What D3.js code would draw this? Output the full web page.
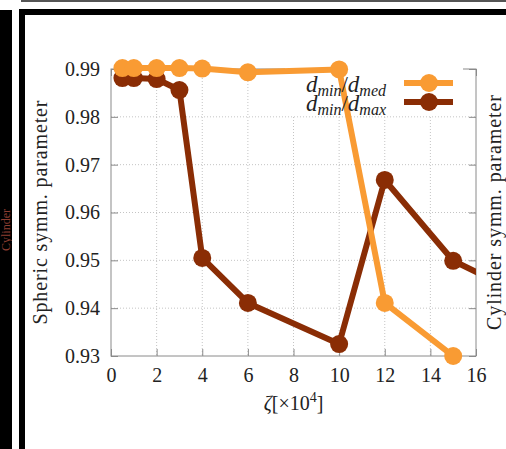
<!DOCTYPE html>
<html>
<head>
<meta charset="utf-8">
<script src="https://cdn.jsdelivr.net/npm/d3@7"></script>
<style>
  html, body { margin: 0; padding: 0; background: #fff; }
  svg { display: block; font-family: "Liberation Serif", "DejaVu Serif", serif; }
</style>
</head>
<body>
<svg id="chart" width="506" height="449"></svg>
<script>
// ---- data ----
var zetaMed = [0.5, 1, 2, 3, 4, 6, 10, 12, 15];
var dMinMed = [0.9902, 0.9902, 0.9902, 0.9902, 0.9901, 0.9893, 0.9899, 0.9411, 0.9300];

var zetaMax = [0.5, 1, 2, 3, 4, 6, 10, 12, 15, 20];   // last point lies outside the frame
var dMinMax = [0.9881, 0.9881, 0.9879, 0.9856, 0.9505, 0.9411, 0.9325, 0.9668, 0.9499, 0.9384];

var xTicks = [0, 2, 4, 6, 8, 10, 12, 14, 16];
var yTicks = [0.93, 0.94, 0.95, 0.96, 0.97, 0.98, 0.99];

var orange = '#f99b33',
    brown = '#8a2d05';

var margin = {top: 69, right: 30, bottom: 93, left: 111},
    width = 506,
    height = 449,
    innerW = width - margin.left - margin.right,
    innerH = height - margin.top - margin.bottom;

var svg = d3.select('#chart');

//------------------------------------------------------------
// page frame around the cropped figure

svg.append('rect').attr('x', 0).attr('y', 10).attr('width', 12).attr('height', height - 10).attr('fill', '#000');
svg.append('text')
    .attr('transform', 'translate(10,230) rotate(-90)')
    .attr('text-anchor', 'middle')
    .attr('font-size', 12)
    .attr('fill', '#8e3e32')
    .text('Cylinder');
svg.append('rect').attr('x', 12).attr('y', 0).attr('width', 7).attr('height', height).attr('fill', '#fff');
svg.append('rect').attr('x', 19).attr('y', 10).attr('width', 6).attr('height', height - 10).attr('fill', '#000');
svg.append('rect').attr('x', 19).attr('y', 9).attr('width', width - 19).attr('height', 6).attr('fill', '#000');
svg.append('rect').attr('x', 21).attr('y', 0).attr('width', width - 21).attr('height', 2).attr('fill', '#555');

//------------------------------------------------------------
// scales

var x = d3.scaleLinear().domain([0, 16]).range([0, innerW]);
var y = d3.scaleLinear().domain([0.93, 0.99]).range([innerH, 0]);

var g = svg.append('g').attr('transform', 'translate(' + margin.left + ',' + margin.top + ')');

//------------------------------------------------------------
// grid

g.append('g').selectAll('line.vgrid')
    .data(xTicks.filter(function(d) { return d > 0 && d < 16; }))
  .enter().append('line')
    .attr('x1', function(d) { return x(d); })
    .attr('x2', function(d) { return x(d); })
    .attr('y1', 0).attr('y2', innerH)
    .attr('stroke', '#c4c4c4').attr('stroke-width', 1).attr('stroke-dasharray', '1,2');

g.append('g').selectAll('line.hgrid')
    .data(yTicks.filter(function(d) { return d > 0.93 && d < 0.99; }))
  .enter().append('line')
    .attr('x1', 0).attr('x2', innerW)
    .attr('y1', function(d) { return y(d); })
    .attr('y2', function(d) { return y(d); })
    .attr('stroke', '#c4c4c4').attr('stroke-width', 1).attr('stroke-dasharray', '1,2');

//------------------------------------------------------------
// frame and inward ticks

g.append('rect')
    .attr('width', innerW).attr('height', innerH)
    .attr('fill', 'none').attr('stroke', '#8a8a8a').attr('stroke-width', 1);

var axL = g.append('g')
    .call(d3.axisLeft(y).tickValues(yTicks).tickSize(-7).tickPadding(11).tickFormat(d3.format('.2f')));
var axB = g.append('g').attr('transform', 'translate(0,' + innerH + ')')
    .call(d3.axisBottom(x).tickValues(xTicks).tickSize(-7).tickPadding(12).tickFormat(d3.format('d')));
var axR = g.append('g').attr('transform', 'translate(' + innerW + ',0)')
    .call(d3.axisRight(y).tickValues(yTicks).tickSize(-7).tickFormat(''));
var axT = g.append('g')
    .call(d3.axisTop(x).tickValues(xTicks).tickSize(-7).tickFormat(''));

[axL, axB, axR, axT].forEach(function(a) {
  a.select('.domain').remove();
  a.selectAll('line').attr('stroke', '#8a8a8a');
  a.selectAll('text').attr('font-size', 20).attr('fill', '#222').attr('font-family', '"Liberation Serif", serif');
});

//------------------------------------------------------------
// opaque key background

var keyX0 = 285 - margin.left, keyX1 = 463 - margin.left;
g.append('rect')
    .attr('x', keyX0).attr('y', -4)
    .attr('width', keyX1 - keyX0).attr('height', 50)
    .attr('fill', '#fff');

//------------------------------------------------------------
// series

g.append('defs').append('clipPath').attr('id', 'plot-clip')
  .append('rect').attr('width', innerW).attr('height', innerH + 12).attr('y', -12);

var series = [
  {xs: zetaMax, ys: dMinMax, color: brown},
  {xs: zetaMed, ys: dMinMed, color: orange}
];

var line = d3.line()
    .x(function(d) { return x(d[0]); })
    .y(function(d) { return y(d[1]); });

var sg = g.append('g').attr('clip-path', 'url(#plot-clip)');

// brown first, orange on top
series.forEach(function(s) {
  var pts = s.xs.map(function(v, i) { return [v, s.ys[i]]; });
  sg.append('path')
      .attr('d', line(pts))
      .attr('fill', 'none')
      .attr('stroke', s.color)
      .attr('stroke-width', 6)
      .attr('stroke-linejoin', 'round');
});

series.forEach(function(s) {
  var pts = s.xs.map(function(v, i) { return [v, s.ys[i]]; })
      .filter(function(d) { return d[0] <= 16; });
  g.append('g').selectAll('circle')
      .data(pts)
    .enter().append('circle')
      .attr('cx', function(d) { return x(d[0]); })
      .attr('cy', function(d) { return y(d[1]); })
      .attr('r', 9)
      .attr('fill', s.color);
});

//------------------------------------------------------------
// legend

var legend = [
  {sub2: 'med', color: orange, yy: 83},
  {sub2: 'max', color: brown, yy: 102}
];

legend.forEach(function(l) {
  var t = svg.append('text')
      .attr('x', 386).attr('y', l.yy + 9)
      .attr('text-anchor', 'end')
      .attr('font-size', 23)
      .attr('fill', '#222');
  t.append('tspan').attr('font-style', 'italic').text('d');
  t.append('tspan').attr('font-style', 'italic').attr('font-size', 16).attr('dy', 4).text('min');
  t.append('tspan').attr('dy', -4).text('/');
  t.append('tspan').attr('font-style', 'italic').text('d');
  t.append('tspan').attr('font-style', 'italic').attr('font-size', 16).attr('dy', 4).text(l.sub2);

  svg.append('line')
      .attr('x1', 404).attr('x2', 453)
      .attr('y1', l.yy).attr('y2', l.yy)
      .attr('stroke', l.color).attr('stroke-width', 6);
  svg.append('circle')
      .attr('cx', 429).attr('cy', l.yy).attr('r', 9)
      .attr('fill', l.color);
});

//------------------------------------------------------------
// axis labels

var xl = svg.append('text')
    .attr('x', margin.left + innerW / 2).attr('y', 410)
    .attr('text-anchor', 'middle')
    .attr('font-size', 20)
    .attr('fill', '#222');
xl.append('tspan').attr('font-style', 'italic').text('ζ');
xl.append('tspan').text('[×10');
xl.append('tspan').attr('font-size', 14).attr('dy', -8).text('4');
xl.append('tspan').attr('dy', 8).text(']');

svg.append('text')
    .attr('transform', 'translate(47,' + (margin.top + innerH / 2) + ') rotate(-90)')
    .attr('text-anchor', 'middle')
    .attr('font-size', 20)
    .attr('fill', '#222')
    .attr('textLength', 224)
    .text('Spheric symm. parameter');

svg.append('text')
    .attr('transform', 'translate(501,' + (margin.top + innerH / 2) + ') rotate(-90)')
    .attr('text-anchor', 'middle')
    .attr('font-size', 20)
    .attr('fill', '#222')
    .attr('textLength', 235)
    .text('Cylinder symm. parameter');
</script>
</body>
</html>
